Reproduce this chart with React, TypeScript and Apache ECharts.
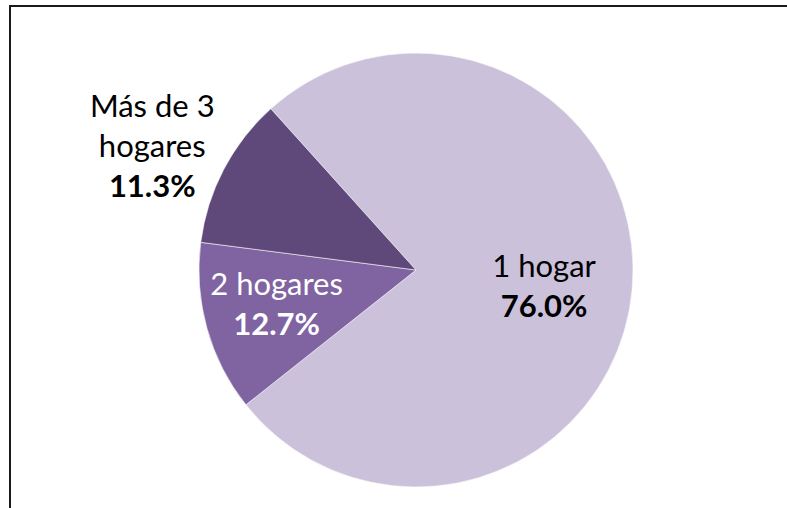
import React, { useEffect, useRef } from "react";
import * as echarts from "echarts";

const categories = ["1 hogar", "2 hogares", "Más de 3\nhogares"];
const values = [76.0, 12.7, 11.3];
const colors = ["#CBC1DA", "#8064A2", "#5F497A"];
const labelColors = ["#000000", "#FFFFFF", "#000000"];
// label shifts relative to ECharts' inside-label position
const labelShift = [
  [17, 6],
  [-32, 3],
  [-165, -73],
];

const FONT = "Lato";
const FS = 31;

export default function App() {
  const ref = useRef<HTMLDivElement>(null);
  useEffect(() => {
    if (!ref.current) return;
    const chart = echarts.init(ref.current, null, { renderer: "svg" });
    chart.setOption({
      animation: false,
      backgroundColor: "#ffffff",
      graphic: [
        { type: "line", shape: { x1: 10, y1: 6, x2: 10, y2: 508 }, style: { stroke: "#1a1a1a", lineWidth: 2 } },
        { type: "line", shape: { x1: 9, y1: 6, x2: 787, y2: 6 }, style: { stroke: "#1a1a1a", lineWidth: 2 } },
      ],
      series: [
        {
          type: "pie",
          center: [416, 270],
          radius: [0, 217],
          startAngle: 132,
          clockwise: true,
          avoidLabelOverlap: false,
          data: categories.map((c, i) => ({
            name: c,
            value: values[i],
            itemStyle: { color: colors[i] },
            label: { color: labelColors[i] },
          })),
          itemStyle: { borderColor: "rgba(255,255,255,0.55)", borderWidth: 1 },
          label: {
            show: true,
            position: "inside",
            fontFamily: FONT,
            fontSize: FS,
            lineHeight: 40,
            align: "center",
            formatter: (p: any) => {
              const lines = String(p.name).split("\n").map((l: string) => `{n|${l}}`);
              return lines.join("\n") + `\n{p|${Number(p.value).toFixed(1)}%}`;
            },
            rich: {
              n: { fontFamily: FONT, fontSize: FS, lineHeight: 40 },
              p: { fontFamily: FONT, fontSize: FS, fontWeight: "bold", lineHeight: 40 },
            },
          },
          labelLine: { show: false },
          labelLayout: (params: any) => {
            const s = labelShift[params.dataIndex];
            return { dx: s[0], dy: s[1] };
          },
        },
      ],
    });
    return () => chart.dispose();
  }, []);
  return (
    <div
      ref={ref}
      style={{ position: "absolute", left: 0, top: 0, width: 787, height: 508 }}
    />
  );
}
